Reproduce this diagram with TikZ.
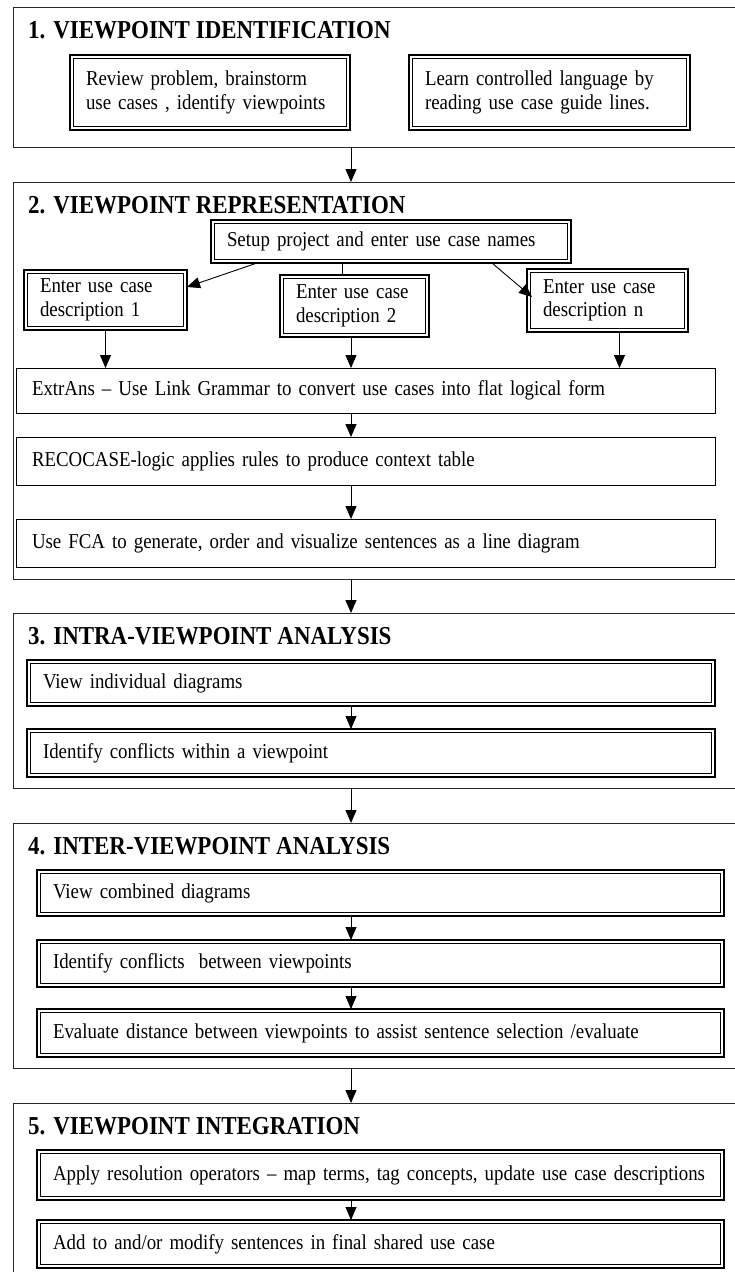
\documentclass[tikz,border=0pt]{standalone}
\usepackage{fontspec}
\setmainfont[FakeStretch=0.89]{Liberation Serif}
\usetikzlibrary{arrows.meta,calc}
\newcommand\bodyfont{\fontsize{21.2}{23.5}\selectfont\spaceskip=4pt\relax}
\newcommand\ttlfont{\fontsize{25.8}{28}\selectfont\bfseries\spaceskip=6pt\relax}
\newcommand\bx[7]{%
  \pgfmathsetmacro\bxw{#5-#3}%
  \pgfmathsetmacro\bxh{#6-#4}%
  \pgfmathsetmacro\bxt{#5-#3-32}%
  \node[#2, minimum width=\bxw pt, minimum height=\bxh pt, text width=\bxt pt] (#1) at (#3,#4) {#7};}
\newcommand\sect[5]{%
  \pgfmathsetmacro\bxw{#4-#2}%
  \pgfmathsetmacro\bxh{#5-#3}%
  \node[secbox, minimum width=\bxw pt, minimum height=\bxh pt] (#1) at (#2,#3) {};}
\tikzset{
  box/.style={draw, line width=0.9pt, anchor=north west, inner xsep=16pt, inner ysep=0pt, align=left, font=\bodyfont, outer sep=0pt},
  dbox/.style={box, line width=1.7pt},
  secbox/.style={draw=black!85, line width=1pt, anchor=north west, outer sep=0pt, inner sep=0pt},
  ttl/.style={anchor=west, font=\ttlfont, inner sep=0pt},
  arr/.style={line width=0.9pt, -{Triangle[length=13pt,width=11pt]}},
  ln/.style={line width=0.9pt},
}
\begin{document}
\begin{tikzpicture}[x=1pt,y=-1pt]
\useasboundingbox (0,0) rectangle (735,1272);
\clip (0,0) rectangle (735,1272);
\fill[white] (0,0) rectangle (735,1272);
% sections
\sect{sec1}{13}{7}{760}{147}
\sect{sec2}{13}{182}{760}{579}
\sect{sec3}{13}{613}{760}{788}
\sect{sec4}{13}{823}{760}{1068}
\sect{sec5}{13}{1103}{760}{1300}
% titles
\node[ttl] (t1) at (28,30) {1. VIEWPOINT IDENTIFICATION};
\node[ttl] (t2) at (28,205) {2. VIEWPOINT REPRESENTATION};
\node[ttl] (t3) at (28,636) {3. INTRA-VIEWPOINT ANALYSIS};
\node[ttl] (t4) at (28,846) {4. INTER-VIEWPOINT ANALYSIS};
\node[ttl] (t5) at (28,1126) {5. VIEWPOINT INTEGRATION};
% section 1
\bx{b1a}{dbox}{70}{55}{350}{130}{Review problem, brainstorm\\use cases , identify viewpoints}
\bx{b1b}{dbox}{409}{55}{690}{130}{Learn controlled language by\\reading use case guide lines.}
% section 2
\bx{setup}{dbox}{211}{220}{571}{263}{\mbox{Setup project and enter use case names}}
\bx{d1}{dbox}{24}{270}{187}{330}{Enter use case\\description 1}
\bx{d2}{dbox}{280}{275}{429}{337}{Enter use case\\description 2}
\bx{dn}{dbox}{527}{269}{688}{332}{Enter use case\\description n}
\bx{ext}{box}{16}{368}{715}{413}{\mbox{ExtrAns – Use Link Grammar to convert use cases into flat logical form}}
\bx{reco}{box}{16}{437}{715}{485}{\mbox{RECOCASE-logic applies rules to produce context table}}
\bx{fca}{box}{16}{519}{715}{567}{\mbox{Use FCA to generate, order and visualize sentences as a line diagram}}
% section 3
\bx{v1}{dbox}{27}{660}{715}{706}{\mbox{View individual diagrams}}
\bx{v2}{dbox}{27}{729}{715}{777}{\mbox{Identify conflicts within a viewpoint}}
% section 4
\bx{c1}{dbox}{37}{870}{724}{916}{\mbox{View combined diagrams}}
\bx{c2}{dbox}{37}{940}{724}{987}{\mbox{Identify conflicts\ \ between viewpoints}}
\bx{c3}{dbox}{37}{1009}{724}{1057}{\mbox{Evaluate distance between viewpoints to assist sentence selection /evaluate}}
% section 5
\bx{a1}{dbox}{37}{1150}{724}{1200}{\mbox{Apply resolution operators – map terms, tag concepts, update use case descriptions}}
\bx{a2}{dbox}{37}{1220}{724}{1268}{\mbox{Add to and/or modify sentences in final shared use case}}
% inner lines of double boxes
\foreach \n in {b1a,b1b,setup,d1,d2,dn,v1,v2,c1,c2,c3,a1,a2}
  \draw[line width=0.7pt] ($(\n.south west)+(3.6,-3.6)$) rectangle ($(\n.north east)+(-3.6,3.6)$);
% connectors
\coordinate (mid) at (351,0);
\draw[arr] (sec1.south -| mid) -- (sec2.north -| mid);
\draw[arr] (sec2.south -| mid) -- (sec3.north -| mid);
\draw[arr] (sec3.south -| mid) -- (sec4.north -| mid);
\draw[arr] (sec4.south -| mid) -- (sec5.north -| mid);
\draw[arr] ([xshift=46pt]setup.south west) -- ([yshift=-17pt]d1.north east);
\draw[ln] ([xshift=-12pt]d2.north |- setup.south) -- ([xshift=-12pt]d2.north);
\draw[arr] ([xshift=-79pt]setup.south east) -- ([xshift=5pt,yshift=-28pt]dn.north west);
\draw[arr] (d1.south) -- (d1.south |- ext.north);
\draw[arr] (d2.south -| mid) -- (ext.north -| mid);
\draw[arr] ([xshift=12pt]dn.south) -- ([xshift=12pt]dn.south |- ext.north);
\draw[arr] (ext.south -| mid) -- (reco.north -| mid);
\draw[arr] (reco.south -| mid) -- (fca.north -| mid);
\draw[arr] (v1.south -| mid) -- (v2.north -| mid);
\draw[arr] (c1.south -| mid) -- (c2.north -| mid);
\draw[arr] (c2.south -| mid) -- (c3.north -| mid);
\draw[arr] (a1.south -| mid) -- (a2.north -| mid);
\end{tikzpicture}
\end{document}
